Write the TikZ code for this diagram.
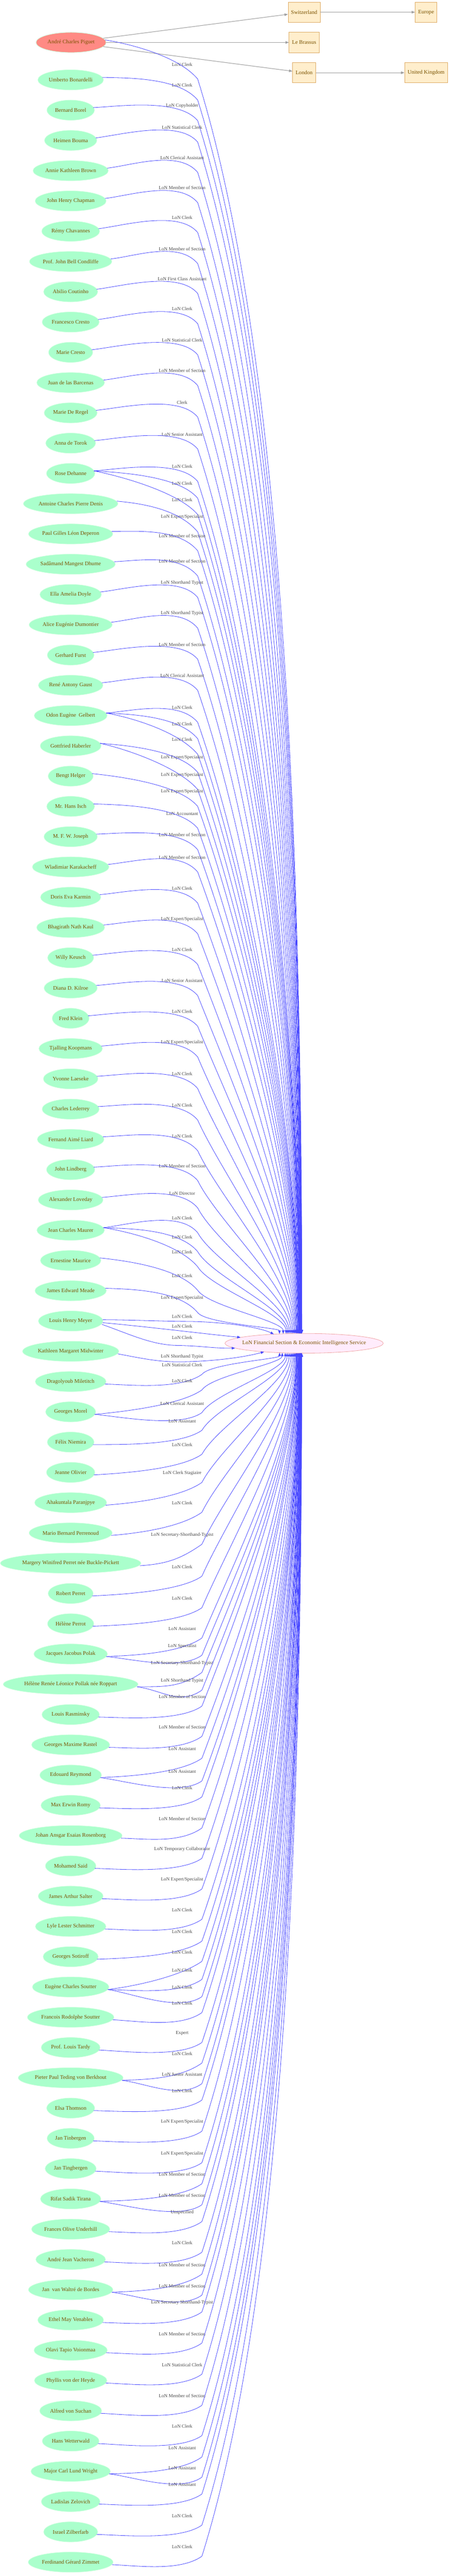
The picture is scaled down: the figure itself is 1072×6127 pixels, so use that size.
\documentclass[tikz,border=0pt]{standalone}
\usepackage{fontspec}
\setmainfont{Liberation Serif}
\usetikzlibrary{arrows.meta,shapes.geometric,calc}
\definecolor{edgeblue}{RGB}{72,72,255}
\definecolor{nodetxt}{RGB}{122,82,0}
\definecolor{persfill}{RGB}{170,255,204}
\definecolor{persline}{RGB}{205,255,222}
\definecolor{pigfill}{RGB}{255,138,132}
\definecolor{ctrfill}{RGB}{255,236,252}
\definecolor{ctrline}{RGB}{240,165,165}
\definecolor{boxfill}{RGB}{255,238,204}
\definecolor{boxline}{RGB}{222,170,100}
\definecolor{grayedge}{RGB}{160,160,160}
\definecolor{labtxt}{RGB}{72,72,72}
\newcounter{lonlab}
% one unit of the reference picture = 0.5pt
\tikzset{
  pers/.style={ellipse, fill=persfill, draw=persline, line width=0.5pt, text=nodetxt,
    font=\fontsize{6.5}{7.5}\selectfont, inner xsep=1.5pt, inner ysep=0pt, minimum height=24pt},
  pignode/.style={pers, fill=pigfill, draw=persline},
  ctrnode/.style={ellipse, fill=ctrfill, draw=ctrline, line width=0.5pt, text=nodetxt,
    font=\fontsize{6.5}{7.5}\selectfont, inner sep=0pt, minimum width=188pt, minimum height=23.5pt},
  placebox/.style={rectangle, fill=boxfill, draw=boxline, line width=0.5pt, text=nodetxt,
    font=\fontsize{6.5}{7.5}\selectfont, inner xsep=3.5pt, minimum height=24pt},
  elab/.style={text=labtxt, font=\fontsize{5.65}{6.5}\selectfont, inner sep=0pt},
  lonedge/.style={draw=edgeblue, line width=0.5pt, -{Triangle[length=4pt,width=3pt]}},
  grayline/.style={draw=grayedge, line width=0.65pt, -{Triangle[length=4pt,width=3pt]}}
}
% edge from a person above the centre node
\newcommand\eup[4]{%
  \pgfmathsetmacro\lonW{#3+35}%
  \pgfmathsetmacro\lonMW{0-\lonW}%
  \pgfmathsetmacro\lonD{3171-\lonW}%
  \pgfmathsetmacro\lonF{-70/(1+\lonD/250)}%
  \pgfmathsetmacro\lonR{\lonF/188}%
  \pgfmathsetmacro\lonY{23.5*sqrt(1-\lonR*\lonR)}%
  \pgfmathsetmacro\lonI{max(0.3*\lonD,10)+\lonY}%
  \pgfmathsetmacro\lonC{0.2*(#2-\lonW)+14}%
  \pgfmathsetmacro\lonQ{\lonD/(\lonD+300)}%
  \pgfmathsetmacro\lonA{-50-25*\lonQ}%
  \pgfmathsetmacro\lonL{0.25*\lonD+20}%
  \pgfmathsetmacro\lonPx{470+\lonL*cos(\lonA)}%
  \pgfmathsetmacro\lonPy{\lonMW+\lonL*sin(\lonA)}%
  \stepcounter{lonlab}%
  \node[elab] (lab\arabic{lonlab}) at (433,-#3) {#4};%
  \draw[lonedge] ($(#1.east)+(-3,6)$) .. controls ($(#1.east)+(57,\lonC)$) and (425,\lonMW+54) .. (470,\lonMW)
     .. controls (\lonPx,\lonPy) and ($(ctr.center)+(\lonF,\lonI)$) .. ($(ctr.center)+(\lonF,\lonY)$);%
}
% edge from a person below the centre node
\newcommand\edn[4]{%
  \pgfmathsetmacro\lonW{#3+22}%
  \pgfmathsetmacro\lonMW{0-\lonW}%
  \pgfmathsetmacro\lonD{\lonW-3219}%
  \pgfmathsetmacro\lonF{-70/(1+\lonD/250)}%
  \pgfmathsetmacro\lonR{\lonF/188}%
  \pgfmathsetmacro\lonY{23.5*sqrt(1-\lonR*\lonR)}%
  \pgfmathsetmacro\lonI{max(0.3*\lonD,10)+\lonY}%
  \pgfmathsetmacro\lonC{0.2*(#2-\lonW)-11}%
  \pgfmathsetmacro\lonQ{\lonD/(\lonD+300)}%
  \pgfmathsetmacro\lonA{50+25*\lonQ}%
  \pgfmathsetmacro\lonL{0.25*\lonD+20}%
  \pgfmathsetmacro\lonPx{480+\lonL*cos(\lonA)}%
  \pgfmathsetmacro\lonPy{\lonMW+\lonL*sin(\lonA)}%
  \stepcounter{lonlab}%
  \node[elab] (lab\arabic{lonlab}) at (433,-#3) {#4};%
  \draw[lonedge] ($(#1.east)+(-3,-6)$) .. controls ($(#1.east)+(57,\lonC)$) and (427,\lonMW-37) .. (480,\lonMW)
     .. controls (\lonPx,\lonPy) and ($(ctr.center)+(\lonF,-\lonI)$) .. ($(ctr.center)+(\lonF,-\lonY)$);%
}
\begin{document}
\begin{tikzpicture}[x=0.5pt,y=0.5pt]
\useasboundingbox (0,0) rectangle (1072,-6127);
\fill[white] (0,0) rectangle (1072,-6127);

% places
\node[placebox] (sw) at (723,-29) {Switzerland};
\node[placebox] (lb) at (723,-101) {Le Brassus};
\node[placebox] (lon) at (723,-173) {London};
\node[placebox] (eu) at (1013,-29) {Europe};
\node[placebox] (uk) at (1013,-173) {United Kingdom};

% centre
\node[ctrnode] (ctr) at (723,-3195) {\makebox[0pt]{LoN Financial Section \& Economic Intelligence Service}};

% persons
\node[pignode] (pig) at (169,-101) {André Charles Piguet};
\node[pers] (n1) at (168,-190) {Umberto Bonardelli};
\node[pers] (n2) at (168,-262) {Bernard Borel};
\node[pers] (n3) at (168,-334) {Heimen Bouma};
\node[pers] (n4) at (168,-406) {Annie Kathleen Brown};
\node[pers] (n5) at (168,-478) {John Henry Chapman};
\node[pers] (n6) at (168,-550) {Rémy Chavannes};
\node[pers] (n7) at (168,-622) {Prof. John Bell Condliffe};
\node[pers] (n8) at (168,-694) {Abilio Coutinho};
\node[pers] (n9) at (168,-766) {Francesco Cresto};
\node[pers] (n10) at (168,-838) {Marie Cresto};
\node[pers] (n11) at (168,-910) {Juan de las Barcenas};
\node[pers] (n12) at (168,-982) {Marie De Regel};
\node[pers] (n13) at (168,-1054) {Anna de Torok};
\node[pers] (n14) at (168,-1126) {Rose Dehanne};
\node[pers] (n15) at (168,-1198) {Antoine Charles Pierre Denis};
\node[pers] (n16) at (168,-1270) {Paul Gilles Léon Deperon};
\node[pers] (n17) at (168,-1342) {Sadâmand Mangest Dhume};
\node[pers] (n18) at (168,-1414) {Ella Amelia Doyle};
\node[pers] (n19) at (168,-1486) {Alice Eugénie Dumontier};
\node[pers] (n20) at (168,-1558) {Gerhard Furst};
\node[pers] (n21) at (168,-1630) {René Antony Gaust};
\node[pers] (n22) at (168,-1702) {Odon Eugène\ \ Gelbert};
\node[pers] (n23) at (168,-1774) {Gottfried Haberler};
\node[pers] (n24) at (168,-1846) {Bengt Helger};
\node[pers] (n25) at (168,-1918) {Mr. Hans Isch};
\node[pers] (n26) at (168,-1990) {M. F. W. Joseph};
\node[pers] (n27) at (168,-2062) {Wladimiar Karakacheff};
\node[pers] (n28) at (168,-2134) {Doris Eva Karmin};
\node[pers] (n29) at (168,-2206) {Bhagirath Nath Kaul};
\node[pers] (n30) at (168,-2278) {Willy Keusch};
\node[pers] (n31) at (168,-2350) {Diana D. Kilroe};
\node[pers] (n32) at (168,-2422) {Fred Klein};
\node[pers] (n33) at (168,-2494) {Tjalling Koopmans};
\node[pers] (n34) at (168,-2566) {Yvonne Laeseke};
\node[pers] (n35) at (168,-2638) {Charles Lederrey};
\node[pers] (n36) at (168,-2710) {Fernand Aimé Liard};
\node[pers] (n37) at (168,-2782) {John Lindberg};
\node[pers] (n38) at (168,-2854) {Alexander Loveday};
\node[pers] (n39) at (168,-2926) {Jean Charles Maurer};
\node[pers] (n40) at (168,-2998) {Ernestine Maurice};
\node[pers] (n41) at (168,-3070) {James Edward Meade};
\node[pers] (n42) at (168,-3142) {Louis Henry Meyer};
\node[pers] (n43) at (168,-3214) {Kathleen Margaret Midwinter};
\node[pers] (n44) at (168,-3286) {Dragolyoub Miletitch};
\node[pers] (n45) at (168,-3358) {Georges Morel};
\node[pers] (n46) at (168,-3430) {Félix Niemira};
\node[pers] (n47) at (168,-3502) {Jeanne Olivier};
\node[pers] (n48) at (168,-3574) {Ahakuntala Paranjpye};
\node[pers] (n49) at (168,-3646) {Mario Bernard Perrenoud};
\node[pers] (n50) at (168,-3718) {Margery Winifred Perret née Buckle-Pickett};
\node[pers] (n51) at (168,-3790) {Robert Perret};
\node[pers] (n52) at (168,-3862) {Hélène Perrot};
\node[pers] (n53) at (168,-3934) {Jacques Jacobus Polak};
\node[pers] (n54) at (168,-4006) {Hélène Renée Léonice Pollak née Roppart};
\node[pers] (n55) at (168,-4078) {Louis Rasminsky};
\node[pers] (n56) at (168,-4150) {Georges Maxime Rastel};
\node[pers] (n57) at (168,-4222) {Edouard Reymond};
\node[pers] (n58) at (168,-4294) {Max Erwin Romy};
\node[pers] (n59) at (168,-4366) {Johan Ansgar Esaias Rosenborg};
\node[pers] (n60) at (168,-4438) {Mohamed Said};
\node[pers] (n61) at (168,-4510) {James Arthur Salter};
\node[pers] (n62) at (168,-4582) {Lyle Lester Schmitter};
\node[pers] (n63) at (168,-4654) {Georges Sotiroff};
\node[pers] (n64) at (168,-4726) {Eugène Charles Soutter};
\node[pers] (n65) at (168,-4798) {Francois Rodolphe Soutter};
\node[pers] (n66) at (168,-4870) {Prof. Louis Tardy};
\node[pers] (n67) at (168,-4942) {Pieter Paul Teding von Berkhout};
\node[pers] (n68) at (168,-5014) {Elsa Thomson};
\node[pers] (n69) at (168,-5086) {Jan Tinbergen};
\node[pers] (n70) at (168,-5158) {Jan Tingbergen};
\node[pers] (n71) at (168,-5230) {Rifat Sadik Tirana};
\node[pers] (n72) at (168,-5302) {Frances Olive Underhill};
\node[pers] (n73) at (168,-5374) {André Jean Vacheron};
\node[pers] (n74) at (168,-5446) {Jan\ \ van Waltré de Bordes};
\node[pers] (n75) at (168,-5518) {Ethel May Venables};
\node[pers] (n76) at (168,-5590) {Olavi Tapio Voionmaa};
\node[pers] (n77) at (168,-5662) {Phyllis von der Heyde};
\node[pers] (n78) at (168,-5734) {Alfred von Suchan};
\node[pers] (n79) at (168,-5806) {Hans Wetterwald};
\node[pers] (n80) at (168,-5878) {Major Carl Lund Wright};
\node[pers] (n81) at (168,-5950) {Ladislas Zelovich};
\node[pers] (n82) at (168,-6022) {Israel Zilberfarb};
\node[pers] (n83) at (168,-6094) {Ferdinand Gérard Zimmet};

% gray place edges
\draw[grayline] (pig) -- (sw);
\draw[grayline] (pig) -- (lb);
\draw[grayline] (pig) -- (lon);
\draw[grayline] (sw) -- (eu);
\draw[grayline] (lon) -- (uk);

% edges above the centre
\eup{pig}{101}{153}{LoN Clerk}
\eup{n1}{190}{203}{LoN Clerk}
\eup{n2}{262}{252}{LoN Copyholder}
\eup{n3}{334}{303}{LoN Statistical Clerk}
\eup{n4}{406}{375}{LoN Clerical Assistant}
\eup{n5}{478}{447}{LoN Member of Section}
\eup{n6}{550}{518}{LoN Clerk}
\eup{n7}{622}{592}{LoN Member of Section}
\eup{n8}{694}{663}{LoN First Class Assistant}
\eup{n9}{766}{735}{LoN Clerk}
\eup{n10}{838}{809}{LoN Statistical Clerk}
\eup{n11}{910}{882}{LoN Member of Section}
\eup{n12}{982}{957}{Clerk}
\eup{n13}{1054}{1033}{LoN Senior Assistant}
\eup{n14}{1126}{1110}{LoN Clerk}
\eup{n14}{1126}{1150}{LoN Clerk}
\eup{n14}{1126}{1189}{LoN Clerk}
\eup{n15}{1198}{1230}{LoN Expert/Specialist}
\eup{n16}{1270}{1275}{LoN Member of Section}
\eup{n17}{1342}{1335}{LoN Member of Section}
\eup{n18}{1414}{1386}{LoN Shorthand Typist}
\eup{n19}{1486}{1459}{LoN Shorthand Typist}
\eup{n20}{1558}{1533}{LoN Member of Section}
\eup{n21}{1630}{1607}{LoN Clerical Assistant}
\eup{n22}{1702}{1683}{LoN Clerk}
\eup{n22}{1702}{1722}{LoN Clerk}
\eup{n22}{1702}{1759}{LoN Clerk}
\eup{n23}{1774}{1802}{LoN Expert/Specialist}
\eup{n23}{1774}{1843}{LoN Expert/Specialist}
\eup{n24}{1846}{1883}{LoN Expert/Specialist}
\eup{n25}{1918}{1935}{LoN Accountant}
\eup{n26}{1990}{1986}{LoN Member of Section}
\eup{n27}{2062}{2039}{LoN Member of Section}
\eup{n28}{2134}{2113}{LoN Clerk}
\eup{n29}{2206}{2186}{LoN Expert/Specialist}
\eup{n30}{2278}{2259}{LoN Clerk}
\eup{n31}{2350}{2333}{LoN Senior Assistant}
\eup{n32}{2422}{2406}{LoN Clerk}
\eup{n33}{2494}{2479}{LoN Expert/Specialist}
\eup{n34}{2566}{2554}{LoN Clerk}
\eup{n35}{2638}{2629}{LoN Clerk}
\eup{n36}{2710}{2702}{LoN Clerk}
\eup{n37}{2782}{2773}{LoN Member of Section}
\eup{n38}{2854}{2838}{LoN Director}
\eup{n39}{2926}{2897}{LoN Clerk}
\eup{n39}{2926}{2942}{LoN Clerk}
\eup{n39}{2926}{2978}{LoN Clerk}
\eup{n40}{2998}{3034}{LoN Clerk}
\eup{n41}{3070}{3087}{LoN Expert/Specialist}

% edges next to the centre
\node[elab] (m1) at (433,-3131) {LoN Clerk};
\draw[lonedge] ($(n42.east)+(-1,3)$) .. controls ($(n42.east)+(60,3)$) and (400,-3143) .. (440,-3143)
   .. controls (520,-3143) and ($(ctr.center)+(-110,40)$) .. ($(ctr.center)+(-72,21.7)$);
\node[elab] (m2) at (433,-3155) {LoN Clerk};
\draw[lonedge] ($(n42.east)+(-1,-4)$) .. controls ($(n42.east)+(100,-13)$) and ($(ctr.center)+(-250,24)$) .. ($(ctr.center)+(-151,14)$);
\node[elab] (m3) at (433,-3182) {LoN Clerk};
\draw[lonedge] ($(n42.east)+(-3,-8)$) .. controls ($(n42.east)+(60,-30)$) and (360,-3199) .. (420,-3200)
   .. controls (480,-3201) and ($(ctr.center)+(-220,-12)$) .. ($(ctr.center)+(-164,-11.5)$);
\node[elab] (m4) at (433,-3227) {LoN Shorthand Typist};
\draw[lonedge] ($(n43.east)+(-3,-6)$) .. controls ($(n43.east)+(60,-18)$) and (380,-3240) .. (434,-3239)
   .. controls (500,-3238) and ($(ctr.center)+(-150,-35)$) .. ($(ctr.center)+(-95,-20.3)$);

% edges below the centre
\edn{n44}{3286}{3247}{LoN Statistical Clerk}
\edn{n45}{3358}{3284}{LoN Clerk}
\edn{n45}{3358}{3338}{LoN Clerical Assistant}
\edn{n46}{3430}{3380}{LoN Assistant}
\edn{n47}{3502}{3437}{LoN Clerk}
\edn{n48}{3574}{3504}{LoN Clerk Stagiaire}
\edn{n49}{3646}{3575}{LoN Clerk}
\edn{n50}{3718}{3651}{LoN Secretary-Shorthand-Typist}
\edn{n51}{3790}{3727}{LoN Clerk}
\edn{n52}{3862}{3802}{LoN Clerk}
\edn{n53}{3934}{3874}{LoN Assistant}
\edn{n53}{3934}{3915}{LoN Specialist}
\edn{n54}{4006}{3956}{LoN Secretary-Shorthand-Typist}
\edn{n54}{4006}{3998}{LoN Shorthand Typist}
\edn{n55}{4078}{4036}{LoN Member of Section}
\edn{n56}{4150}{4108}{LoN Member of Section}
\edn{n57}{4222}{4160}{LoN Assistant}
\edn{n57}{4222}{4214}{LoN Assistant}
\edn{n58}{4294}{4252}{LoN Clerk}
\edn{n59}{4366}{4326}{LoN Member of Section}
\edn{n60}{4438}{4398}{LoN Temporary Collaborator}
\edn{n61}{4510}{4471}{LoN Expert/Specialist}
\edn{n62}{4582}{4543}{LoN Clerk}
\edn{n63}{4654}{4595}{LoN Clerk}
\edn{n64}{4726}{4643}{LoN Clerk}
\edn{n64}{4726}{4686}{LoN Clerk}
\edn{n64}{4726}{4727}{LoN Clerk}
\edn{n65}{4798}{4765}{LoN Clerk}
\edn{n66}{4870}{4836}{Expert}
\edn{n67}{4942}{4885}{LoN Clerk}
\edn{n67}{4942}{4934}{LoN Junior Assistant}
\edn{n68}{5014}{4973}{LoN Clerk}
\edn{n69}{5086}{5047}{LoN Expert/Specialist}
\edn{n70}{5158}{5122}{LoN Expert/Specialist}
\edn{n71}{5230}{5172}{LoN Member of Section}
\edn{n71}{5230}{5222}{LoN Member of Section}
\edn{n72}{5302}{5262}{Unspecified}
\edn{n73}{5374}{5335}{LoN Clerk}
\edn{n74}{5446}{5387}{LoN Member of Section}
\edn{n74}{5446}{5437}{LoN Member of Section}
\edn{n75}{5518}{5477}{LoN Secretary Shorthand-Typist}
\edn{n76}{5590}{5551}{LoN Member of Section}
\edn{n77}{5662}{5625}{LoN Statistical Clerk}
\edn{n78}{5734}{5699}{LoN Member of Section}
\edn{n79}{5806}{5771}{LoN Clerk}
\edn{n80}{5878}{5822}{LoN Assistant}
\edn{n80}{5878}{5870}{LoN Assistant}
\edn{n81}{5950}{5910}{LoN Assistant}
\edn{n82}{6022}{5984}{LoN Clerk}
\edn{n83}{6094}{6058}{LoN Clerk}
\end{tikzpicture}
\end{document}
